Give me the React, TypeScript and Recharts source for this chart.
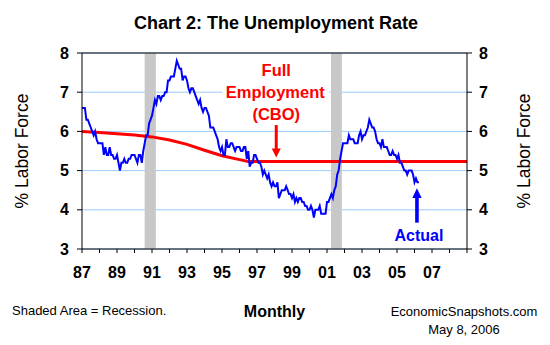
import React from 'react';
import {
  ComposedChart,
  Line,
  XAxis,
  YAxis,
  CartesianGrid,
  ReferenceArea,
  ReferenceLine,
  ReferenceDot,
} from 'recharts';

const FONT = '"Liberation Sans", Arial, sans-serif';

// monthly civilian unemployment rate, Jan 1987 .. Apr 2006
const startYear = 1987;
const unemploymentRate = [
  6.6, 6.6, 6.6, 6.3, 6.3, 6.2, 6.1, 6.0, 5.9, 6.0, 5.8, 5.7, // 1987
  5.7, 5.7, 5.7, 5.4, 5.6, 5.4, 5.4, 5.6, 5.4, 5.4, 5.3, 5.3, // 1988
  5.4, 5.2, 5.0, 5.2, 5.2, 5.3, 5.2, 5.2, 5.3, 5.3, 5.4, 5.4, // 1989
  5.4, 5.3, 5.2, 5.4, 5.4, 5.2, 5.5, 5.7, 5.9, 5.9, 6.2, 6.3, // 1990
  6.4, 6.6, 6.8, 6.7, 6.9, 6.9, 6.8, 6.9, 6.9, 7.0, 7.0, 7.3, // 1991
  7.3, 7.4, 7.4, 7.4, 7.6, 7.8, 7.7, 7.6, 7.6, 7.3, 7.4, 7.4, // 1992
  7.3, 7.1, 7.0, 7.1, 7.1, 7.0, 6.9, 6.8, 6.7, 6.8, 6.6, 6.5, // 1993
  6.6, 6.6, 6.5, 6.4, 6.1, 6.1, 6.1, 6.0, 5.9, 5.8, 5.6, 5.5, // 1994
  5.6, 5.4, 5.4, 5.8, 5.6, 5.6, 5.7, 5.7, 5.6, 5.5, 5.6, 5.6, // 1995
  5.6, 5.5, 5.5, 5.6, 5.6, 5.3, 5.5, 5.1, 5.2, 5.2, 5.4, 5.4, // 1996
  5.3, 5.2, 5.2, 5.1, 4.9, 5.0, 4.9, 4.8, 4.9, 4.7, 4.6, 4.7, // 1997
  4.6, 4.6, 4.7, 4.3, 4.4, 4.5, 4.5, 4.5, 4.6, 4.5, 4.4, 4.4, // 1998
  4.3, 4.4, 4.2, 4.3, 4.2, 4.3, 4.3, 4.2, 4.2, 4.1, 4.1, 4.0, // 1999
  4.0, 4.1, 4.0, 3.8, 4.0, 4.0, 4.0, 4.1, 3.9, 3.9, 3.9, 3.9, // 2000
  4.2, 4.2, 4.3, 4.4, 4.3, 4.5, 4.6, 4.9, 5.0, 5.3, 5.5, 5.7, // 2001
  5.7, 5.7, 5.7, 5.9, 5.8, 5.8, 5.8, 5.7, 5.7, 5.7, 5.9, 6.0, // 2002
  5.8, 5.9, 5.9, 6.0, 6.1, 6.3, 6.2, 6.1, 6.1, 6.0, 5.8, 5.7, // 2003
  5.7, 5.6, 5.8, 5.6, 5.6, 5.6, 5.5, 5.4, 5.4, 5.5, 5.4, 5.4, // 2004
  5.3, 5.4, 5.2, 5.2, 5.1, 5.0, 5.0, 4.9, 5.0, 5.0, 5.0, 4.9, // 2005
  4.7, 4.8, 4.7, 4.7, // 2006
];

// CBO full-employment (NAIRU) estimate
const nairuYears = [1987, 1988, 1989, 1990, 1991, 1992, 1993, 1994, 1995, 1996, 1996.5, 2009];
const nairuValues = [6.0, 5.97, 5.94, 5.91, 5.86, 5.78, 5.67, 5.52, 5.38, 5.28, 5.23, 5.23];

const recessionStarts = [1990.58, 2001.23];
const recessionEnds = [1991.22, 2001.85];

const yTicks = [3, 4, 5, 6, 7, 8];
const xTicks = [
  1987, 1988, 1989, 1990, 1991, 1992, 1993, 1994, 1995, 1996, 1997, 1998,
  1999, 2000, 2001, 2002, 2003, 2004, 2005, 2006, 2007, 2008, 2009,
];

const rateData = unemploymentRate.map((v, i) => ({ x: startYear + i / 12, v }));
const nairuData = nairuYears.map((x, i) => ({ x, v: nairuValues[i] }));

const yearLabel = (y: number) =>
  y % 2 === 1 && y < 2009 ? String(y % 100).padStart(2, '0') : '';

const tickStyle = { fontFamily: FONT, fontSize: 16, fontWeight: 700, fill: '#000' };
const blackLine = { stroke: '#000', strokeWidth: 1 };

const FullEmploymentNote = (props: any) => {
  const { cx, cy } = props;
  return (
    <g>
      <rect x={cx - 54} y={cy - 106} width={107} height={69} fill="#fff" />
      <g fontFamily={FONT} fontSize={16.5} fontWeight={700} fill="#ff0000" textAnchor="middle">
        <text x={cx} y={cy - 85.7}>Full</text>
        <text x={cx - 1} y={cy - 64}>Employment</text>
        <text x={cx} y={cy - 41.7}>(CBO)</text>
      </g>
      <rect x={cx - 1.5} y={cy - 36.5} width={3} height={24} fill="#ff0000" />
      <path d={`M ${cx - 4.5} ${cy - 13} L ${cx + 4.5} ${cy - 13} L ${cx} ${cy - 4} Z`} fill="#ff0000" />
    </g>
  );
};

const ActualNote = (props: any) => {
  const { cx, cy } = props;
  return (
    <g>
      <path d={`M ${cx - 4.7} ${cy + 15.6} L ${cx + 4.7} ${cy + 15.6} L ${cx} ${cy + 6} Z`} fill="#0000ff" />
      <rect x={cx - 1.8} y={cy + 15} width={3.6} height={25.3} fill="#0000ff" />
      <text x={cx + 2} y={cy + 58.3} fontFamily={FONT} fontSize={16} fontWeight={700} fill="#0000ff" textAnchor="middle">
        Actual
      </text>
    </g>
  );
};

const sideLabel = (dx: number) => (props: any) => {
  const { viewBox } = props;
  const x = viewBox.x + dx;
  const y = viewBox.y + viewBox.height / 2;
  return (
    <text
      x={x}
      y={y}
      transform={`rotate(-90 ${x} ${y})`}
      textAnchor="middle"
      dominantBaseline="central"
      fontFamily={FONT}
      fontSize={17.5}
      fill="#000"
    >
      % Labor Force
    </text>
  );
};

const monthlyLabel = (props: any) => {
  const { viewBox } = props;
  return (
    <text
      x={viewBox.x + viewBox.width / 2}
      y={viewBox.y + 67.7}
      textAnchor="middle"
      fontFamily={FONT}
      fontSize={16}
      fontWeight={700}
      fill="#000"
    >
      Monthly
    </text>
  );
};

export default function App() {
  return (
    <div style={{ position: 'absolute', left: 0, top: 0, width: 550, height: 345, background: '#fff', fontFamily: FONT }}>
      <div style={{ position: 'absolute', left: 0, top: 13, width: 552, textAlign: 'center', fontSize: 18, fontWeight: 700, lineHeight: '21px' }}>
        Chart 2: The Unemployment Rate
      </div>
      <ComposedChart width={550} height={345} data={rateData} margin={{ top: 53, right: 0, bottom: 0, left: 0 }}>
        <CartesianGrid yAxisId="left" horizontal vertical={false} stroke="#99ccff" strokeWidth={1} />
        <XAxis
          dataKey="x"
          type="number"
          domain={[1987, 2009]}
          ticks={xTicks}
          interval={0}
          tickFormatter={yearLabel}
          height={96}
          stroke="#000"
          axisLine={blackLine}
          tickLine={blackLine}
          tickSize={4}
          tickMargin={14}
          tick={tickStyle}
          label={monthlyLabel}
        />
        <YAxis
          yAxisId="left"
          domain={[3, 8]}
          ticks={yTicks}
          interval={0}
          width={82}
          stroke="#000"
          axisLine={blackLine}
          tickLine={blackLine}
          tickSize={5}
          tickMargin={8}
          tick={tickStyle}
          label={sideLabel(22)}
        />
        <YAxis
          yAxisId="right"
          orientation="right"
          domain={[3, 8]}
          ticks={yTicks}
          interval={0}
          width={83}
          stroke="#000"
          axisLine={blackLine}
          tickLine={blackLine}
          tickSize={5}
          tickMargin={7}
          tick={tickStyle}
          label={sideLabel(57)}
        />
        {recessionStarts.map((s, i) => (
          <ReferenceArea
            key={s}
            yAxisId="left"
            x1={s}
            x2={recessionEnds[i]}
            fill="#c8c8c8"
            fillOpacity={1}
            stroke="none"
          />
        ))}
        <ReferenceLine yAxisId="left" y={8} stroke="#000" strokeWidth={1} ifOverflow="visible" />
        <ReferenceDot yAxisId="left" x={1998.1} y={5.23} shape={FullEmploymentNote} />
        <Line
          yAxisId="right"
          data={nairuData}
          dataKey="v"
          type="linear"
          stroke="#ff0000"
          strokeWidth={3}
          dot={false}
          activeDot={false}
          isAnimationActive={false}
        />
        <Line
          yAxisId="left"
          dataKey="v"
          type="linear"
          stroke="#0000ff"
          strokeWidth={2}
          dot={false}
          activeDot={false}
          isAnimationActive={false}
        />
        <ReferenceDot yAxisId="left" x={2006.14} y={4.7} shape={ActualNote} />
      </ComposedChart>
      <div style={{ position: 'absolute', left: 12, top: 303, fontSize: 13, lineHeight: '16px' }}>
        Shaded Area = Recession.
      </div>
      <div style={{ position: 'absolute', left: 384, top: 303, width: 160, textAlign: 'center', fontSize: 13, lineHeight: '18px' }}>
        EconomicSnapshots.com
        <br />
        May 8, 2006
      </div>
    </div>
  );
}
